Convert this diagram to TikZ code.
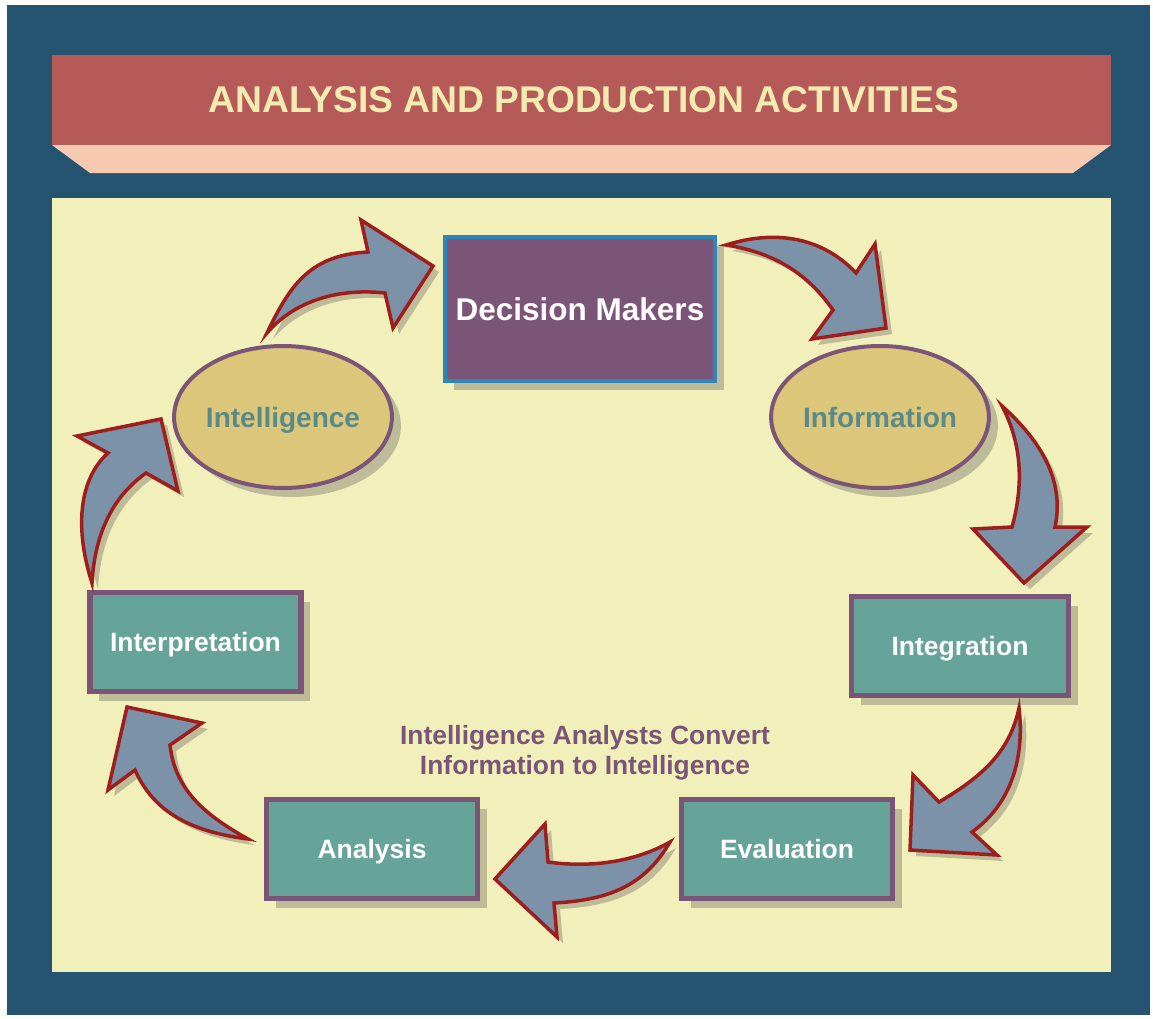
\documentclass[tikz,border=0pt]{standalone}
\usepackage{fontspec}
\setmainfont{Liberation Sans}
\usetikzlibrary{shapes.geometric,shadows}
\definecolor{darkbg}{RGB}{36,84,112}
\definecolor{bannerred}{RGB}{181,90,88}
\definecolor{bannerpink}{RGB}{246,202,176}
\definecolor{panelc}{RGB}{242,240,186}
\definecolor{shadowc}{RGB}{190,188,152}
\definecolor{purplec}{RGB}{122,85,119}
\definecolor{dmborder}{RGB}{46,134,184}
\definecolor{ellfill}{RGB}{220,198,122}
\definecolor{tealtext}{RGB}{90,138,136}
\definecolor{boxfill}{RGB}{102,163,152}
\definecolor{arrfillc}{RGB}{123,146,168}
\definecolor{arrdrawc}{RGB}{158,30,30}
\definecolor{titlec}{RGB}{242,236,176}
\newcommand\blockarr[1]{\fill[shadowc,shift={(6,6)}] #1; \filldraw[arrowbody] #1;}
\newcommand\captext[1]{\raisebox{-0.358em}[0pt][0pt]{#1}}
\begin{document}
\begin{tikzpicture}[x=1pt,y=-1pt,
  arrowbody/.style={fill=arrfillc, draw=arrdrawc, line width=3.5pt, line join=miter, miter limit=10},
  shadowed/.style={drop shadow={shadow xshift=9pt, shadow yshift=-9pt, fill=shadowc, opacity=1}},
  stagebox/.style={rectangle, draw=purplec, line width=5.5pt, fill=boxfill, text=white,
    font=\fontsize{26.5}{30}\selectfont\bfseries, minimum width=211pt, minimum height=99pt,
    inner sep=0pt, shadowed},
  oval/.style={ellipse, draw=purplec, line width=4pt, fill=ellfill, text=tealtext,
    font=\fontsize{28}{32}\selectfont\bfseries, minimum width=216pt, minimum height=142pt,
    inner sep=0pt, shadowed}]
\useasboundingbox (0,0) rectangle (1153,1018);
\fill[white] (0,0) rectangle (1153,1018);
\fill[darkbg] (7,5) rectangle (1150,1015);
% banner
\fill[bannerpink] (52,145) -- (1111,145) -- (1073,173) -- (90,173) -- cycle;
\fill[bannerred] (52,55) rectangle (1111,145);
\node[text=titlec, font=\fontsize{37.2}{40}\selectfont\bfseries] (title) at (584,99) {\captext{ANALYSIS AND PRODUCTION ACTIVITIES}};
% panel
\fill[panelc] (52,198) rectangle (1111,972);
% nodes
\node[rectangle, draw=dmborder, line width=4pt, fill=purplec, text=white,
  font=\fontsize{31.5}{34}\selectfont\bfseries, minimum width=270pt, minimum height=144pt,
  inner sep=0pt, shadowed] (dm) at (580,309) {\captext{Decision Makers}};
\node[oval] (intel) at (283,417) {\captext{Intelligence}};
\node[oval] (info) at (880,417) {\captext{Information}};
\node[stagebox] (interp) at (195.5,642) {\captext{Interpretation}};
\node[stagebox, minimum width=217pt] (integ) at (960,646) {\captext{Integration}};
\node[stagebox] (eval) at (787,849) {\captext{Evaluation}};
\node[stagebox] (anal) at (372,849) {\captext{Analysis}};
\node[text=purplec, align=center, font=\fontsize{26.4}{30}\selectfont\bfseries] (caption) at (585,753)
  {Intelligence Analysts Convert\\Information to Intelligence};
% curved block arrows
\blockarr{(267,333) .. controls (290,285) and (310,255) .. (368,252) -- (361,220) -- (433,266) -- (393,328) -- (385,293) .. controls (340,288) and (295,300) .. (267,333) -- cycle}
\blockarr{(726,245) .. controls (780,228) and (825,240) .. (856,273) -- (875,244) -- (886,328) -- (812,339) -- (833,310) .. controls (805,270) and (770,252) .. (726,245) -- cycle}
\blockarr{(1002,406) .. controls (1040,440) and (1065,480) .. (1055,527) -- (1087,527) -- (1024,583) -- (973,529) -- (1012,527) .. controls (1025,480) and (1020,440) .. (1002,406) -- cycle}
\blockarr{(1019,708) .. controls (1025,760) and (1010,805) .. (972,832) -- (997,855) -- (910,850) -- (913,775) -- (939,802) .. controls (985,775) and (1010,750) .. (1019,708) -- cycle}
\blockarr{(670,842) .. controls (635,862) and (590,868) .. (548,862) -- (545,824) -- (495,879) -- (557,937) -- (554,903) .. controls (610,900) and (645,885) .. (670,842) -- cycle}
\blockarr{(248,839) .. controls (205,815) and (175,790) .. (170,745) -- (202,723) -- (127,707) -- (108,790) -- (135,770) .. controls (155,815) and (195,832) .. (248,839) -- cycle}
\blockarr{(92,583) .. controls (75,530) and (78,480) .. (108,453) -- (77,436) -- (161,419) -- (178,491) -- (146,473) .. controls (115,495) and (95,530) .. (92,583) -- cycle}
\end{tikzpicture}
\end{document}
